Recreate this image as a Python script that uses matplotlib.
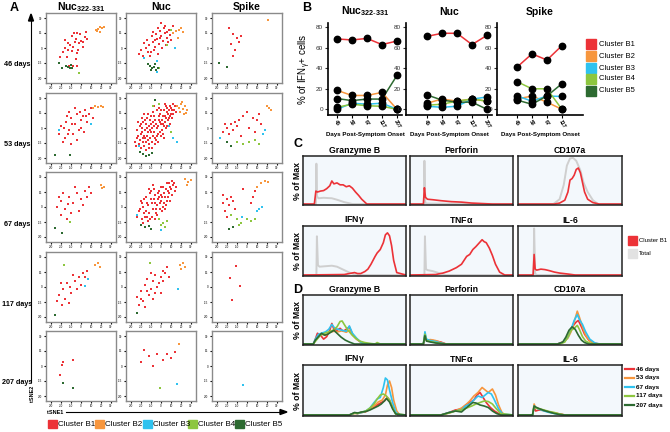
import matplotlib.pyplot as plt
from matplotlib.patches import Rectangle
from matplotlib.lines import Line2D

plt.rcParams['font.family'] = ['Liberation Sans', 'DejaVu Sans']
plt.rcParams['mathtext.default'] = 'regular'

W, H = 670, 432

clusters = ['Cluster B1', 'Cluster B2', 'Cluster B3', 'Cluster B4', 'Cluster B5']
colors = ['#ec3237', '#f7963d', '#2fc2ef', '#8dc63f', '#2d6a31']

# ---- panel A: tSNE points per peptide / day, one list of (x, y) per cluster ----
peptides = ['Nuc322', 'Nuc', 'Spike']
days_a = ['46 days', '53 days', '67 days', '117 days', '207 days']

nuc322_46 = [
    [(-7, 15), (-4, 15), (-1, 14), (-9, 12), (5, 16), (-16, 8), (-5, 9), (0, 7), (2, 6), (-13, 5),
     (-2, 5), (-11, 3), (-8, 1), (2, 1), (-18, -4), (-13, -2), (-9, -3), (-3, -2), (4, 11), (6, 9),
     (-14, -9), (-4, -5), (-21, -9), (-16, 0), (-6, 6), (-12, -18), (-8, -18), (-4, -18), (-5, -11)],
    [(15, 18), (17, 19), (19, 21), (21, 20), (23, 21), (19, 16), (16, 17)],
    [],
    [(-2, -25)],
    [(-22, -15), (-19, -20), (-13, -19), (-11, -20), (-10, -17), (-15, -18), (-9, -20)],
]
nuc_46 = [
    [(-20, -2), (-15, 0), (-12, 3), (-10, -4), (-8, 6), (-6, 1), (-4, 9), (-2, 4), (0, 12), (2, 7),
     (4, 15), (6, 10), (8, 18), (-14, 8), (-9, 12), (-5, 14), (-1, 17), (3, 20), (-7, -2), (-3, -6),
     (1, 0), (5, 3), (9, 13), (12, 22), (-17, 5), (-11, -8), (0, 25), (7, 6), (-3, 20), (10, 8),
     (-22, -6), (-18, -8), (-13, -4), (-6, 8), (-1, 10), (4, 22), (6, 16), (-8, 16)],
    [(12, 15), (15, 17), (18, 18), (20, 20), (22, 16), (17, 10)],
    [(14, 0), (-17, -10), (-4, -13), (-4, -24)],
    [(6, 3), (-2, -20), (10, 18)],
    [(-13, -16), (-11, -18), (-9, -20), (-7, -19), (-5, -22), (-3, -20), (-10, -22), (-6, -16)],
]
spike_46 = [
    [(-18, 20), (-14, 14), (-10, 10), (-16, 4), (-12, -2), (-8, 6), (-14, -8), (-6, 12)],
    [(21, 28)],
    [],
    [],
    [(-28, -15), (-20, -19)],
]
nuc322_53 = [
    [(-20, 2), (-15, 6), (-12, -2), (-10, 10), (-6, 4), (-4, 14), (0, 8), (2, 12), (4, 18), (-8, -6),
     (-2, -2), (6, 6), (-16, -10), (-12, 16), (8, 14), (-18, -14), (-6, 20), (0, 0), (-22, -6), (10, 20),
     (-4, -12), (3, -4), (-10, -16), (12, 10), (-14, 12), (-17, 0), (-9, 4), (-1, 16), (5, 12), (-13, -6)],
    [(12, 20), (14, 22), (17, 21), (20, 22), (22, 21)],
    [(-22, -2), (10, 4)],
    [],
    [(-26, -27), (-11, -27)],
]
nuc_53 = [
    [(-24, -10), (-20, -6), (-18, -14), (-16, -2), (-14, -8), (-12, 2), (-10, -4), (-8, 6), (-6, -10), (-4, 0),
     (-2, 8), (0, 4), (2, 12), (4, 6), (6, 16), (8, 10), (10, 20), (12, 14), (14, 22), (-22, -16),
     (-19, 0), (-15, 4), (-13, -12), (-11, 8), (-9, -14), (-7, 12), (-5, 4), (-3, -6), (-1, 14), (1, -2),
     (3, 18), (5, 0), (7, 8), (9, 4), (11, 18), (-17, -18), (-12, -20), (-6, -16), (0, -8), (-20, 4),
     (-14, 10), (-8, 16), (-2, 20), (4, 24), (-16, -10), (-10, 12), (-4, 18), (2, -6), (6, 20), (-18, 6),
     (-26, -14), (-23, -8), (-21, -12), (-19, -4), (-17, -8), (-15, -14), (-13, -4), (-11, -10), (-9, 0), (-7, -4),
     (-5, -12), (-3, 2), (-1, -4), (1, 8), (3, 2), (5, 10), (7, 14), (9, 12), (11, 10), (13, 18),
     (15, 16), (-24, -2), (-21, 2), (-18, -10), (-16, 8), (-14, 0), (-12, -16), (-10, 4), (-8, -8), (-6, 8),
     (-4, -8), (-2, 12), (0, 18), (2, 4), (4, 12), (6, 2), (8, 18), (10, 14), (12, 24), (-25, -18),
     (-20, -20), (-15, -22), (-9, -20), (-3, -14), (3, -10), (-7, 2), (-11, -2), (-1, 6), (5, 22), (9, 22),
     (-19, 10), (-13, 14), (-7, 22), (-23, 6), (-17, 14)],
    [(16, 22), (18, 20), (20, 24), (22, 19), (24, 22), (26, 18), (19, 16), (23, 14), (21, 26), (25, 15)],
    [(-22, -18), (12, -10), (16, -14), (8, 2)],
    [(-8, 22), (-2, 24), (10, -4)],
    [(-18, -26), (-15, -28), (-12, -27), (-9, -25), (-21, -24), (-6, 28)],
]
spike_53 = [
    [(-24, -4), (-20, 0), (-16, 4), (-12, 6), (-8, 8), (-4, 12), (0, 16), (-18, -6), (-14, -2), (-10, 2),
     (6, 10), (10, 8), (14, 4), (2, 0), (8, -4), (-6, -8), (12, 14), (-22, 4)],
    [(20, 22), (22, 20), (24, 18)],
    [(16, -6), (18, -2), (-27, -10)],
    [(-10, -14), (-4, -16), (2, -14), (8, -12), (12, -16)],
    [(-20, -14), (-16, -18)],
]
nuc322_67 = [
    [(-24, 0), (-20, 6), (-16, -2), (-12, 10), (-8, 4), (-4, 14), (0, 8), (4, 16), (-18, 14), (-10, -6),
     (-6, 20), (2, 2), (6, 10), (8, 20), (-14, -12), (-20, -8), (-2, -4), (10, 14), (-22, 10), (-13, 3)],
    [(20, 22), (21, 19), (23, 20)],
    [],
    [(-11, -15)],
    [(-26, -21), (-19, -26)],
]
nuc_67 = [
    [(-22, -4), (-18, 0), (-16, -10), (-14, 4), (-12, -6), (-10, 8), (-8, -2), (-6, 12), (-4, 2), (-2, 16),
     (0, 6), (2, 20), (4, 10), (6, 24), (8, 14), (10, 18), (12, 22), (-20, 6), (-15, 10), (-11, 14),
     (-7, 18), (-3, 8), (1, -4), (5, 2), (9, 6), (-13, -14), (-9, -10), (-5, -6), (-1, -2), (3, 14),
     (7, 10), (11, 26), (-17, -6), (-19, -12), (-8, 22), (-2, 10), (4, -2), (14, 16), (-6, 4), (0, 12),
     (-24, -10), (-21, -2), (-19, 4), (-17, 8), (-15, -4), (-13, 2), (-11, -12), (-9, 4), (-7, 8), (-5, -2),
     (-3, 14), (-1, 4), (1, 10), (3, 4), (5, 18), (7, 16), (9, 20), (11, 12), (13, 24), (15, 20),
     (-18, -16), (-10, 16), (-6, -12), (0, 20), (6, 6), (-14, -10), (-4, -8), (2, 0), (8, 24), (-12, 18)],
    [(24, 28), (27, 25), (30, 27), (26, 22)],
    [(-24, -8), (0, -23)],
    [(-2, -12), (2, -16), (4, -20), (6, -14), (0, -18)],
    [(-20, -18), (-16, -20), (-12, -19), (-10, -22)],
]
spike_67 = [
    [(-24, 4), (-20, 8), (-18, 2), (-22, -4), (-16, 10), (-14, 6), (-24, 12), (-20, -10), (4, 4), (6, 10),
     (8, 16), (-12, -2), (-4, 18)],
    [(14, 24), (18, 26), (21, 25), (10, 20)],
    [(10, -4), (12, -2), (15, 0), (-5, -10)],
    [(-16, -8), (-10, -12), (-6, -16), (0, -12), (4, -14), (8, -12), (-8, -18)],
    [(-18, -22), (-14, -20)],
]
nuc322_117 = [
    [(-22, -8), (-18, -2), (-14, 4), (-10, -6), (-6, 6), (-2, 10), (2, 14), (-20, 4), (-16, -12), (-8, 12),
     (0, 2), (4, 10), (-12, -16), (-4, -2), (6, 16), (-24, -14), (-19, -18), (-11, 0)],
    [(14, 22), (17, 24), (19, 20)],
    [(7, 8), (4, 1)],
    [(-17, 22)],
    [(-26, -28)],
]
nuc_117 = [
    [(-24, -10), (-20, -4), (-16, 2), (-12, -8), (-8, 6), (-4, 0), (0, 10), (4, 14), (-18, -14), (-14, 8),
     (-10, -2), (-6, 12), (-2, 4), (2, 16), (6, 20), (-22, -18), (-16, -20), (-8, -12), (0, -6), (8, 10),
     (-14, -4), (-6, -6), (2, 6), (-10, 14), (-20, -12)],
    [(19, 22), (22, 24), (24, 20), (20, 18)],
    [(17, -2)],
    [(-11, 24)],
    [(-24, -26)],
]
spike_117 = [
    [(-11, 21), (-17, 9), (-7, 1), (-15, -13)],
    [],
    [],
    [],
    [],
]
nuc322_207 = [
    [(-18, 4), (-19, 1), (-21, -9), (-8, 6)],
    [],
    [],
    [],
    [(-18, -17), (-8, -22)],
]
nuc_207 = [
    [(-17, 16), (-12, 10), (-20, 4), (-8, 0), (6, 12), (14, 14), (2, 6), (10, 8), (-4, 12)],
    [(18, 22)],
    [(16, -18)],
    [(-1, -22)],
    [],
]
spike_207 = [
    [],
    [],
    [(-4, -19)],
    [],
    [],
]

tsne_grid = [
    [nuc322_46, nuc_46, spike_46],
    [nuc322_53, nuc_53, spike_53],
    [nuc322_67, nuc_67, spike_67],
    [nuc322_117, nuc_117, spike_117],
    [nuc322_207, nuc_207, spike_207],
]

# ---- panel B: % of IFNg+ cells per cluster over time ----
days_b = ['46', '53', '67', '117', '207']
b_nuc322 = [[68.5, 67.5, 69, 63, 66.5],
            [18.5, 13.5, 13.5, 16.5, 0],
            [0, 6, 5, 6, 0],
            [2, 5, 3.5, 3, 0],
            [10.5, 8.5, 10, 10, 33]]
b_nuc = [[71, 74, 74, 63, 72],
         [6, 10, 8, 10, 8],
         [3, 2, 3, 10, 12],
         [4, 5, 8, 10, 8],
         [14, 9, 7, 7, 0]]
b_spike = [[41, 54, 48, 62],
           [10, 13, 7, 0],
           [13, 8, 13, 12.5],
           [27, 20, 20, 0],
           [9, 5, 13, 25]]

# ---- panel C / D: histogram curves, (x, % of max) ----
markers = ['Granzyme B', 'Perforin', 'CD107a', 'IFN$\\gamma$', 'TNF$\\alpha$', 'IL-6']

c_total = [
    ([0, 12.5, 13, 13.6, 15, 20, 28, 33, 40, 48, 100], [0, 0, 84, 16, 12, 13, 12, 9, 4, 0, 0]),
    ([0, 13.5, 14, 14.8, 15.5, 100], [0, 0, 90, 4, 1, 0]),
    ([0, 34, 40, 44, 47, 50, 53, 56, 60, 63, 67, 72, 77, 100], [0, 0, 10, 40, 80, 95, 96, 90, 70, 45, 25, 8, 0, 0]),
    ([0, 13, 13.5, 14.5, 16, 22, 28, 33, 38, 45, 52, 100], [0, 0, 79, 20, 17, 18, 19, 17, 12, 5, 0, 0]),
    ([0, 14, 14.5, 15.5, 17, 22, 28, 35, 100], [0, 0, 79, 12, 10, 8, 4, 0, 0]),
    ([0, 15, 15.5, 16.5, 18, 100], [0, 0, 95, 3, 0, 0]),
]
c_b1 = [
    ([0, 11, 12.5, 14, 17, 20, 23, 26, 28, 30, 33, 36, 39, 42, 45, 48, 51, 54, 57, 62, 100],
     [0, 0, 27, 25, 27, 28, 32, 38, 48, 42, 44, 40, 40, 36, 38, 33, 25, 18, 10, 0, 0]),
    ([0, 13, 14, 15, 17, 22, 30, 40, 50, 60, 70, 80, 100], [0, 0, 34, 14, 10, 9, 7, 5, 4, 2, 1, 0, 0]),
    ([0, 35, 40, 45, 48, 50, 52, 54, 56, 58, 60, 62, 64, 67, 72, 78, 100],
     [0, 0, 2, 8, 25, 50, 53, 60, 72, 75, 65, 45, 25, 10, 3, 0, 0]),
    ([0, 40, 45, 50, 53, 56, 60, 63, 66, 70, 72, 75, 78, 80, 82, 84, 86, 88, 91, 100],
     [0, 1, 3, 5, 3, 3, 7, 12, 22, 38, 45, 52, 66, 82, 86, 80, 60, 30, 5, 0]),
    ([0, 25, 32, 38, 45, 50, 55, 58, 61, 64, 67, 70, 72, 74, 77, 80, 83, 87, 92, 100],
     [0, 1, 4, 8, 15, 22, 38, 42, 52, 58, 65, 72, 68, 66, 55, 40, 22, 6, 0, 0]),
    ([0, 14.5, 15.5, 16.5, 18, 22, 26, 30, 35, 40, 48, 55, 100], [0, 0, 42, 12, 10, 12, 11, 9, 6, 4, 2, 0, 0]),
]

days_d = ['46 days', '53 days', '67 days', '117 days', '207 days']
d_granzyme = [
    ([0, 10, 12, 14, 17, 20, 23, 26, 28, 30, 33, 36, 39, 42, 45, 48, 52, 56, 60, 100],
     [0, 0, 10, 22, 18, 10, 15, 28, 42, 30, 28, 32, 26, 30, 35, 20, 10, 4, 0, 0]),
    ([0, 10, 12, 15, 18, 22, 26, 30, 34, 38, 42, 45, 48, 52, 56, 60, 100],
     [0, 0, 8, 15, 20, 18, 24, 26, 25, 27, 24, 28, 18, 10, 4, 0, 0]),
    ([0, 10, 12, 15, 18, 22, 25, 28, 31, 34, 38, 42, 45, 48, 52, 56, 60, 100],
     [0, 0, 10, 20, 22, 25, 30, 40, 32, 30, 28, 26, 37, 22, 12, 4, 0, 0]),
    ([0, 10, 13, 17, 21, 25, 29, 33, 36, 38, 40, 43, 47, 51, 55, 60, 66, 70, 72, 75, 100],
     [0, 0, 8, 18, 22, 25, 28, 35, 46, 47, 40, 30, 20, 12, 6, 3, 1, 0, 3, 0, 0]),
    ([0, 10, 12, 15, 18, 21, 24, 27, 30, 33, 37, 41, 45, 50, 100],
     [0, 0, 8, 15, 22, 18, 20, 24, 28, 22, 14, 8, 4, 0, 0]),
]
d_perforin = [
    ([0, 13, 14.5, 16, 20, 25, 30, 35, 100], [0, 0, 18, 8, 8, 6, 4, 0, 0]),
    ([0, 13, 14.5, 16, 20, 25, 30, 35, 100], [0, 0, 20, 8, 9, 7, 3, 0, 0]),
    ([0, 13, 14.5, 16, 20, 25, 30, 35, 100], [0, 0, 25, 10, 7, 5, 2, 0, 0]),
    ([0, 13, 14.5, 16, 20, 25, 30, 35, 100], [0, 0, 20, 7, 5, 3, 1, 0, 0]),
    ([0, 13, 14.5, 16, 20, 25, 30, 35, 100], [0, 0, 17, 6, 4, 2, 1, 0, 0]),
]
d_cd107a = [
    ([0, 38, 44, 48, 51, 54, 56, 58, 61, 64, 68, 73, 78, 100], [0, 0, 5, 15, 30, 40, 45, 48, 35, 20, 8, 2, 0, 0]),
    ([0, 38, 44, 48, 51, 54, 57, 59, 62, 65, 69, 74, 78, 100], [0, 0, 4, 12, 25, 45, 67, 55, 35, 18, 6, 1, 0, 0]),
    ([0, 38, 44, 48, 51, 54, 57, 59, 62, 65, 69, 74, 79, 100], [0, 0, 4, 14, 30, 48, 60, 50, 40, 25, 10, 2, 0, 0]),
    ([0, 40, 45, 48, 51, 54, 57, 59, 62, 65, 69, 74, 100], [0, 0, 4, 15, 28, 32, 38, 30, 15, 6, 2, 0, 0]),
    ([0, 38, 43, 46, 49, 52, 55, 58, 61, 64, 68, 100], [0, 0, 4, 14, 28, 35, 30, 18, 8, 3, 0, 0]),
]
d_ifng = [
    ([0, 45, 50, 53, 56, 60, 64, 68, 72, 76, 79, 82, 84, 86, 89, 92, 100],
     [0, 0, 4, 3, 5, 6, 10, 15, 20, 25, 28, 35, 30, 20, 8, 0, 0]),
    ([0, 45, 50, 53, 57, 61, 65, 69, 73, 77, 80, 82, 84, 86, 88, 91, 94, 100],
     [0, 0, 3, 3, 5, 7, 12, 18, 26, 30, 40, 60, 68, 55, 30, 8, 0, 0]),
    ([0, 45, 50, 53, 57, 61, 65, 69, 72, 75, 78, 80, 82, 84, 87, 90, 93, 100],
     [0, 0, 4, 3, 5, 8, 14, 25, 32, 35, 55, 74, 70, 50, 25, 6, 0, 0]),
    ([0, 45, 50, 53, 57, 61, 65, 69, 72, 75, 78, 81, 84, 87, 90, 100],
     [0, 0, 4, 3, 6, 8, 14, 22, 32, 40, 42, 38, 30, 15, 2, 0]),
    ([0, 45, 50, 53, 57, 61, 65, 69, 73, 76, 79, 81, 84, 87, 90, 100],
     [0, 0, 5, 4, 6, 7, 10, 14, 18, 22, 28, 33, 26, 12, 2, 0]),
]
d_tnfa = [
    ([0, 30, 38, 44, 50, 54, 58, 62, 65, 68, 71, 74, 78, 82, 86, 90, 100],
     [0, 0, 5, 10, 12, 20, 25, 30, 40, 45, 35, 25, 15, 8, 3, 0, 0]),
    ([0, 30, 38, 44, 50, 54, 58, 62, 66, 70, 73, 76, 80, 83, 86, 89, 92, 100],
     [0, 0, 4, 8, 14, 20, 28, 38, 45, 55, 50, 45, 52, 40, 20, 6, 0, 0]),
    ([0, 30, 38, 44, 50, 54, 58, 62, 66, 70, 73, 76, 79, 82, 86, 90, 100],
     [0, 0, 5, 8, 10, 18, 22, 30, 38, 35, 40, 45, 42, 30, 12, 2, 0]),
    ([0, 30, 38, 44, 50, 55, 60, 64, 68, 72, 76, 80, 84, 88, 100],
     [0, 0, 4, 8, 10, 14, 18, 22, 25, 28, 27, 22, 12, 3, 0]),
    ([0, 30, 38, 44, 50, 55, 58, 61, 64, 68, 72, 76, 80, 84, 88, 100],
     [0, 0, 5, 8, 6, 15, 20, 25, 24, 20, 18, 15, 8, 3, 0, 0]),
]
d_il6 = [
    ([0, 14, 15.5, 17, 20, 25, 30, 35, 40, 45, 100], [0, 0, 15, 8, 10, 9, 6, 4, 2, 0, 0]),
    ([0, 14, 15.5, 17, 20, 25, 30, 35, 40, 45, 100], [0, 0, 22, 14, 12, 9, 6, 4, 2, 0, 0]),
    ([0, 14, 15.5, 17, 20, 25, 30, 35, 40, 45, 100], [0, 0, 18, 15, 12, 8, 5, 3, 1, 0, 0]),
    ([0, 14, 15.5, 17, 20, 25, 30, 35, 40, 45, 100], [0, 0, 17, 14, 13, 10, 7, 5, 2, 0, 0]),
    ([0, 14, 15.5, 17, 20, 25, 30, 35, 40, 45, 100], [0, 0, 18, 16, 13, 9, 6, 3, 1, 0, 0]),
]
d_curves = [d_granzyme, d_perforin, d_cd107a, d_ifng, d_tnfa, d_il6]


def px_axes(fig, x, y, w, h):
    return fig.add_axes([x / W, 1 - (y + h) / H, w / W, h / H])


fig = plt.figure(figsize=(W / 100, H / 100), dpi=100)
bold = dict(fontweight='bold')

# ===================== A =====================
fig.text(10 / W, 1 - 8 / H, 'A', fontsize=9, va='center', **bold)
col_x = [46, 126, 212]
row_y = [13, 93, 172, 252, 331]
col_titles = ['Nuc$_{322\\text{-}331}$', 'Nuc', 'Spike']
for c, t in enumerate(col_titles):
    fig.text((col_x[c] + 35) / W, 1 - 7 / H, t, fontsize=7.5, ha='center', va='center', **bold)

for r in range(5):
    fig.text(17 / W, 1 - (row_y[r] + 52) / H, days_a[r], fontsize=5.2, ha='center', va='center', **bold)
    for c in range(3):
        ax = px_axes(fig, col_x[c], row_y[r], 70, 70)
        for k in range(5):
            pts = tsne_grid[r][c][k]
            if pts:
                ax.scatter([p[0] for p in pts], [p[1] for p in pts], s=4, color=colors[k],
                           marker='s', linewidths=0)
        ax.set_xlim(-35, 35)
        ax.set_ylim(-35, 35)
        ax.set_xticks([-30, -20, -10, 0, 10, 20, 30])
        ax.set_yticks([-30, -15, 0, 15, 30])
        ax.set_xticklabels(['-30', '-20', '-10', '0', '10', '20', '30'], fontsize=2.2)
        ax.set_yticklabels(['-30', '-15', '0', '15', '30'], fontsize=2.2)
        ax.tick_params(length=1.5, width=0.8, pad=1)
        for s in ax.spines.values():
            s.set_color('#8a8a8a')
            s.set_linewidth(1.0)

# axis arrows
fig.add_artist(plt.Line2D([31 / W, 31 / W], [1 - 382 / H, 1 - 15 / H], color='black', lw=0.8))
fig.patches.append(plt.Polygon([[28.5 / W, 1 - 21 / H], [33.5 / W, 1 - 21 / H], [31 / W, 1 - 14 / H]],
                               closed=True, color='black', transform=fig.transFigure))
fig.text(32 / W, 1 - 394 / H, 'tSNE2', fontsize=4, rotation=90, ha='center', va='center', **bold)
fig.add_artist(plt.Line2D([66 / W, 283 / W], [1 - 412 / H, 1 - 412 / H], color='black', lw=0.8))
fig.patches.append(plt.Polygon([[280 / W, 1 - 409.5 / H], [280 / W, 1 - 414.5 / H], [287 / W, 1 - 412 / H]],
                               closed=True, color='black', transform=fig.transFigure))
fig.text(47 / W, 1 - 412 / H, 'tSNE1', fontsize=4, ha='left', va='center', **bold)

leg_x = [48, 95, 143, 188, 235]
for k in range(5):
    fig.patches.append(Rectangle((leg_x[k] / W, 1 - 428 / H), 8.5 / W, 8.5 / H, color=colors[k],
                                 transform=fig.transFigure))
    fig.text((leg_x[k] + 10) / W, 1 - 424 / H, clusters[k], fontsize=5.8, ha='left', va='center')

# ===================== B =====================
fig.text(302 / W, 1 - 8 / H, 'B', fontsize=9, va='center', **bold)
b_boxes = [(328, 402, -0.6), (406, 492, -1.4), (497, 583, -1.33)]
b_data = [b_nuc322, b_nuc, b_spike]
for i, (x0, x1, left) in enumerate(b_boxes):
    ax = px_axes(fig, x0, 23, x1 - x0, 92)
    vals = b_data[i]
    n = len(vals[0])
    xs = list(range(n))
    for k in range(5):
        ax.plot(xs, vals[k], color=colors[k], lw=1.1, zorder=2)
    for k in range(5):
        ax.plot(xs, vals[k], 'o', color='black', ms=4.6, zorder=3)
    ax.set_xlim(left, left + (x1 - x0) / 15)
    ax.set_ylim(-5.5, 84)
    ax.set_yticks([0, 20, 40, 60, 80])
    ax.set_xticks(xs)
    ax.set_xticklabels(days_b[:n], rotation=-60, fontsize=3.8, ha='center', va='top', **bold)
    ax.tick_params(axis='y', labelsize=4.6, length=2, width=0.8, pad=1.5, colors='#333333')
    ax.tick_params(axis='x', length=2, width=0.8, pad=1.2)
    for s in ['top', 'right']:
        ax.spines[s].set_visible(False)
    for s in ['left', 'bottom']:
        ax.spines[s].set_linewidth(1.2)
    ax.set_xlabel('Days Post-Symptom Onset', fontsize=4.4, labelpad=2, **bold)
    ax.set_title(col_titles[i], fontsize=7.5, pad=6, **bold)
    if i == 0:
        ax.set_ylabel('% of IFN$_\\gamma$+ cells', fontsize=7, labelpad=2)
for k in range(5):
    y = [44, 56, 68, 79, 91][k]
    fig.patches.append(Rectangle((586 / W, 1 - (y + 5) / H), 10 / W, 10 / H, color=colors[k],
                                 transform=fig.transFigure))
    fig.text(599 / W, 1 - y / H, clusters[k], fontsize=5.5, ha='left', va='center')

# ===================== C / D =====================
hist_cols = [(303, 406), (410, 513), (518, 622)]


def hist_axes(x0, x1, y0, y1, title):
    ax = px_axes(fig, x0, y0, x1 - x0, y1 - y0)
    ax.set_facecolor('#f3f8fc')
    ax.set_xlim(0, 100)
    ax.set_ylim(-2, 100)
    ax.set_xticks([])
    ax.set_yticks([])
    for s in ax.spines.values():
        s.set_linewidth(1.1)
        s.set_color('#222222')
    ax.set_title(title, fontsize=6.3, pad=2.5, **bold)
    return ax


fig.text(298 / W, 1 - 144 / H, 'C', fontsize=9, ha='center', va='center', **bold)
c_rows = [(156, 205), (226, 276)]
for m in range(6):
    r, c = divmod(m, 3)
    ax = hist_axes(hist_cols[c][0], hist_cols[c][1], c_rows[r][0], c_rows[r][1], markers[m])
    ax.plot(c_total[m][0], c_total[m][1], color='#cfcfcf', lw=1.4)
    ax.plot(c_b1[m][0], c_b1[m][1], color='#ec3237', lw=1.2)
for r in range(2):
    fig.text(297 / W, 1 - (c_rows[r][0] + c_rows[r][1]) / 2 / H, '% of Max', fontsize=6.3,
             rotation=90, ha='center', va='center', **bold)
fig.patches.append(Rectangle((628 / W, 1 - 245 / H), 8.5 / W, 9 / H, color='#ec3237',
                             transform=fig.transFigure))
fig.patches.append(Rectangle((628 / W, 1 - 258 / H), 8.5 / W, 9 / H, color='#e2e2e2',
                             transform=fig.transFigure))
fig.text(639 / W, 1 - 240.5 / H, 'Cluster B1', fontsize=4.3, ha='left', va='center')
fig.text(639 / W, 1 - 253.5 / H, 'Total', fontsize=4.3, ha='left', va='center')

fig.text(298 / W, 1 - 290 / H, 'D', fontsize=9, ha='center', va='center', **bold)
d_rows = [(295, 345), (365, 416)]
for m in range(6):
    r, c = divmod(m, 3)
    ax = hist_axes(hist_cols[c][0], hist_cols[c][1], d_rows[r][0], d_rows[r][1], markers[m])
    for k in range(5):
        ax.plot(d_curves[m][k][0], d_curves[m][k][1], color=colors[k], lw=1.2)
for r in range(2):
    fig.text(297 / W, 1 - (d_rows[r][0] + d_rows[r][1]) / 2 / H, '% of Max', fontsize=6.3,
             rotation=90, ha='center', va='center', **bold)
for k in range(5):
    y = 369 + 9 * k
    fig.add_artist(Line2D([625 / W, 634 / W], [1 - y / H, 1 - y / H], color=colors[k], lw=1.6))
    fig.text(636 / W, 1 - y / H, days_d[k], fontsize=4.6, ha='left', va='center', **bold)

fig.savefig('out.png', dpi=100)
